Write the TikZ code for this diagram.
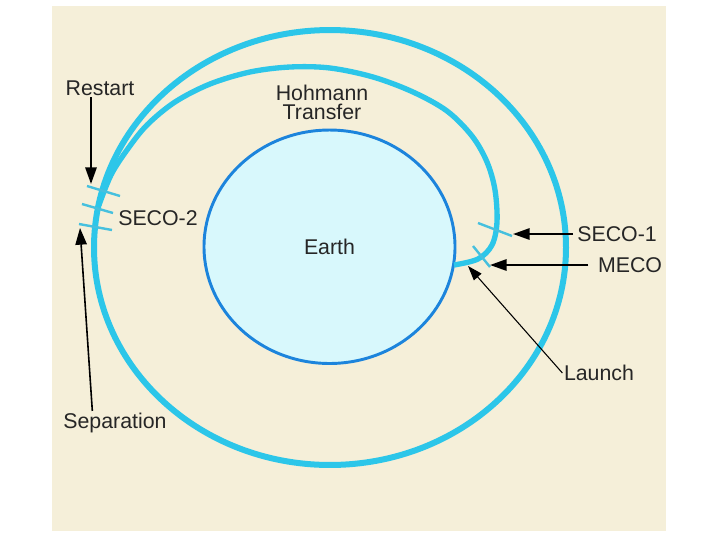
\documentclass[tikz,border=0pt]{standalone}
\usepackage{fontspec}
\setmainfont{Liberation Sans}
\usetikzlibrary{shapes.geometric,arrows.meta}
\definecolor{bg}{RGB}{245,239,217}
\definecolor{orbit}{RGB}{44,198,233}
\definecolor{tickc}{RGB}{70,192,222}
\definecolor{earthfill}{RGB}{216,248,252}
\definecolor{earthline}{RGB}{28,132,220}
\begin{document}
\begin{tikzpicture}[x=0.75pt,y=-0.75pt,
  lbl/.style={font=\fontsize{16}{14.5}\selectfont, inner sep=1pt, text=black!85},
  orb/.style={draw=orbit, line width=4.5pt},
  transfer/.style={draw=orbit, line width=4pt, line join=round},
  tickmark/.style={draw=tickc, line width=1.8pt},
  arr/.style={draw=black, line width=1.5pt, -{Triangle[length=12.5pt,width=8.5pt]}},
  thinarr/.style={draw=black, line width=0.8pt, -{Triangle[length=11pt,width=7.5pt]}},
]
\useasboundingbox (0,0) rectangle (720,540);
\fill[bg] (52,6) rectangle (666,531);
% outer orbit
\draw[orb] (330,247.5) ellipse [x radius=177pt, y radius=163.1pt];
% Earth
\node[ellipse, draw=earthline, fill=earthfill, line width=2.2pt,
      minimum width=188.25pt, minimum height=175.1pt, inner sep=0, lbl] (earth) at (329.5,246.75) {Earth};
% transfer orbit
\draw[transfer] plot[smooth, tension=0.55] coordinates {
  (454,265) (478,259) (492,245) (497,222) (495,190) (487,162) (472,136)
  (447,111) (413,92) (373,77) (330,68) (290,67) (250,72) (210,84)
  (175,102) (147,125) (127,150) (111,175) (99,205)};
% tick marks
\draw[tickmark] (87,186) -- (120,196);
\draw[tickmark] (82,204) -- (113,213);
\draw[tickmark] (79,224) -- (112,230);
\draw[tickmark] (478,223) -- (512,236);
\draw[tickmark] (473,246) -- (490,267);
% labels
\node[lbl] (restart) at (100,88) {Restart};
\node[lbl] (seco2) at (158,218) {SECO-2};
\node[lbl, align=center] (hohmann) at (322,102.5) {Hohmann\\Transfer};
\node[lbl] (seco1) at (617,234) {SECO-1};
\node[lbl] (meco) at (630,265) {MECO};
\node[lbl] (launch) at (599,373) {Launch};
\node[lbl] (separation) at (115,422.5) {Separation};
% arrows
\coordinate (restartTip) at (91,184);
\coordinate (sepTip) at (80,228);
\coordinate (seco1Tip) at (513,234);
\coordinate (mecoTip) at (490,265);
\coordinate (launchTip) at (468,266);
\draw[arr] (restart.south -| restartTip) -- (restartTip);
\draw[arr, line width=1.2pt] ([xshift=-17pt]separation.north) -- (sepTip);
\draw[arr] ([xshift=-2pt]seco1.west) -- (seco1Tip);
\draw[arr] ([xshift=-6pt]meco.west) -- (mecoTip);
\draw[thinarr] (launch.west) -- (launchTip);
\end{tikzpicture}
\end{document}
